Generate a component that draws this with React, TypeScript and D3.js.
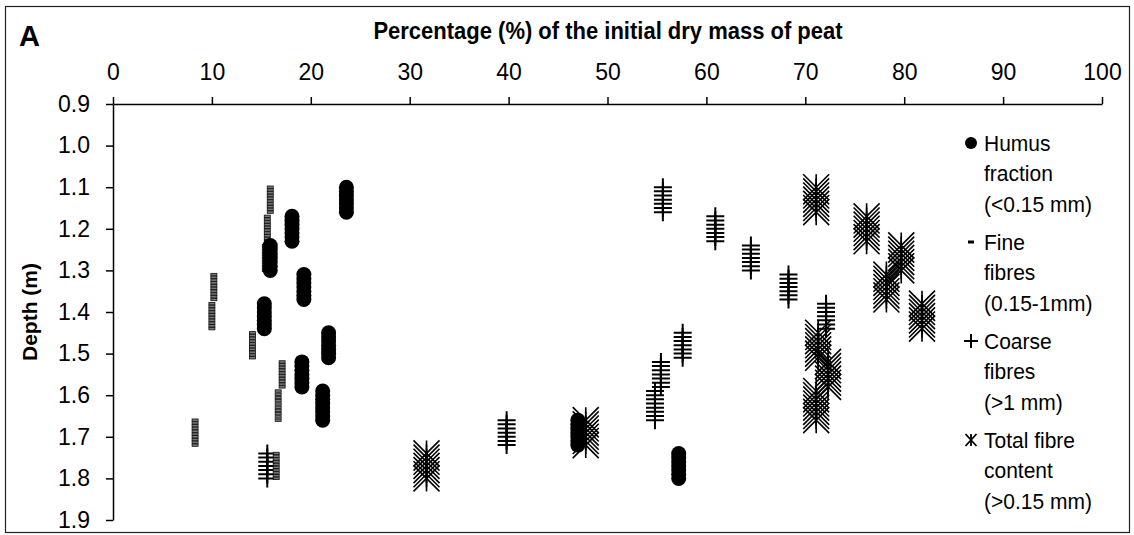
import React, { useEffect, useRef } from "react";
import * as d3 from "d3";

// Sample depth intervals (m)
const depthTop = [1.1, 1.17, 1.24, 1.31, 1.38, 1.45, 1.52, 1.59, 1.66, 1.74];
const depthBottom = [1.16, 1.23, 1.3, 1.37, 1.44, 1.51, 1.58, 1.66, 1.72, 1.8];
// Series values (% of initial dry mass)
const humus = [23.6, 18.1, 15.9, 19.3, 15.3, 21.8, 19.1, 21.2, 47.0, 57.2];
const fine = [15.9, 15.6, 15.4, 10.2, 10.0, 14.1, 17.1, 16.7, 8.3, 16.5];
const coarse = [55.6, 60.9, 64.5, 68.3, 72.1, 57.6, 55.4, 54.8, 39.8, 15.6];
const total = [71.1, 76.2, 79.7, 78.2, 81.8, 71.3, 72.3, 71.1, 47.8, 31.7];

const xTicks = [0, 10, 20, 30, 40, 50, 60, 70, 80, 90, 100];
const yTicks = [0.9, 1.0, 1.1, 1.2, 1.3, 1.4, 1.5, 1.6, 1.7, 1.8, 1.9];

const legendLabels = [
  ["Humus", "fraction", "(<0.15 mm)"],
  ["Fine", "fibres", "(0.15-1mm)"],
  ["Coarse", "fibres", "(>1 mm)"],
  ["Total fibre", "content", "(>0.15 mm)"],
];

const FONT = "'Liberation Sans', Arial, sans-serif";

export default function App() {
  const ref = useRef<SVGSVGElement>(null);

  useEffect(() => {
    const svg = d3.select(ref.current);
    svg.selectAll("*").remove();

    const x = d3.scaleLinear().domain([0, 100]).range([113, 1102]);
    const y = d3.scaleLinear().domain([0.9, 1.9]).range([104, 520]);

    // frame
    svg.append("rect").attr("x", 5.5).attr("y", 6.5).attr("width", 1124).attr("height", 526)
      .attr("fill", "none").attr("stroke", "#222").attr("stroke-width", 1.2);

    // axes
    const xAxis = d3.axisTop(x).tickValues(xTicks).tickSize(7).tickSizeOuter(0).tickPadding(17)
      .tickFormat(d3.format("d"));
    const gx = svg.append("g").attr("transform", `translate(0,${y(0.9)})`).call(xAxis);
    const yAxis = d3.axisLeft(y).tickValues(yTicks).tickSize(7).tickSizeOuter(0).tickPadding(16)
      .tickFormat(d3.format(".1f"));
    const gy = svg.append("g").attr("transform", `translate(${x(0)},0)`).call(yAxis);
    [gx, gy].forEach((g) => {
      g.select(".domain").attr("stroke", "#000").attr("stroke-width", 1.5);
      g.selectAll(".tick line").attr("stroke", "#000").attr("stroke-width", 1.5);
      g.selectAll(".tick text").attr("font-family", FONT).attr("font-size", 23).attr("fill", "#000");
    });

    // titles
    svg.append("text").attr("transform", "translate(608,39) scale(1,1.12)").attr("text-anchor", "middle")
      .attr("font-family", FONT).attr("font-weight", "bold").attr("font-size", 22)
      .text("Percentage (%) of the initial dry mass of peat");
    svg.append("text").attr("x", 19).attr("y", 46)
      .attr("font-family", FONT).attr("font-weight", "bold").attr("font-size", 29).text("A");
    svg.append("text").attr("transform", `translate(37,${(y(0.9) + y(1.9)) / 2}) rotate(-90)`)
      .attr("text-anchor", "middle")
      .attr("font-family", FONT).attr("font-weight", "bold").attr("font-size", 21).text("Depth (m)");

    const plot = svg.append("g");

    const steps = (i: number) => d3.range(depthTop[i], depthBottom[i] + 0.0001, 0.01);

    // coarse fibres: plus markers
    coarse.forEach((v, i) => {
      steps(i).forEach((d) => {
        const cx = x(v), cy = y(d);
        plot.append("path").attr("d", `M${cx - 9},${cy}H${cx + 9}M${cx},${cy - 9}V${cy + 9}`)
          .attr("stroke", "#000").attr("stroke-width", 2);
      });
    });
    // total fibre: star markers
    total.forEach((v, i) => {
      steps(i).forEach((d) => {
        const cx = x(v), cy = y(d), r = 13;
        plot.append("path")
          .attr("d", `M${cx - r},${cy - r}L${cx + r},${cy + r}M${cx - r},${cy + r}L${cx + r},${cy - r}M${cx},${cy - r}V${cy + r}`)
          .attr("stroke", "#000").attr("stroke-width", 1.6);
      });
    });
    // fine fibres: small dash boxes
    fine.forEach((v, i) => {
      const n = 10;
      d3.range(n).forEach((k) => {
        const d = depthTop[i] + (k * (depthBottom[i] - depthTop[i])) / (n - 1);
        plot.append("rect").attr("x", x(v) - 3).attr("y", y(d) - 1.2).attr("width", 6).attr("height", 2.4)
          .attr("fill", "#777").attr("stroke", "#111").attr("stroke-width", 0.8);
      });
    });
    // humus: filled circles
    humus.forEach((v, i) => {
      steps(i).forEach((d) => {
        plot.append("circle").attr("cx", x(v)).attr("cy", y(d)).attr("r", 7.5).attr("fill", "#000");
      });
    });

    // legend
    const groupY = [143, 242, 341, 440];
    const lx = 971, tx = 984;
    legendLabels.forEach((lines, gi) => {
      lines.forEach((t, li) => {
        svg.append("text").attr("transform", `translate(${tx},${groupY[gi] + li * 30.5 + 7.5}) scale(1,1.08)`)
          .attr("font-family", FONT).attr("font-size", 21).attr("fill", "#000").text(t);
      });
    });
    const ly = groupY;
    svg.append("circle").attr("cx", lx).attr("cy", ly[0]).attr("r", 6).attr("fill", "#000");
    svg.append("rect").attr("x", lx - 3).attr("y", ly[1] - 1.5).attr("width", 6).attr("height", 3).attr("fill", "#000");
    svg.append("path").attr("d", `M${lx - 7},${ly[2]}H${lx + 7}M${lx},${ly[2] - 7}V${ly[2] + 7}`)
      .attr("stroke", "#000").attr("stroke-width", 2);
    svg.append("path")
      .attr("d", `M${lx - 5.5},${ly[3] - 6}L${lx + 5.5},${ly[3] + 6}M${lx - 5.5},${ly[3] + 6}L${lx + 5.5},${ly[3] - 6}M${lx},${ly[3] - 6}V${ly[3] + 6}`)
      .attr("stroke", "#000").attr("stroke-width", 1.8);
  }, []);

  return (
    <div style={{ position: "absolute", left: 0, top: 0 }}>
      <svg ref={ref} width={1134} height={535} style={{ display: "block", background: "#fff" }} />
    </div>
  );
}
